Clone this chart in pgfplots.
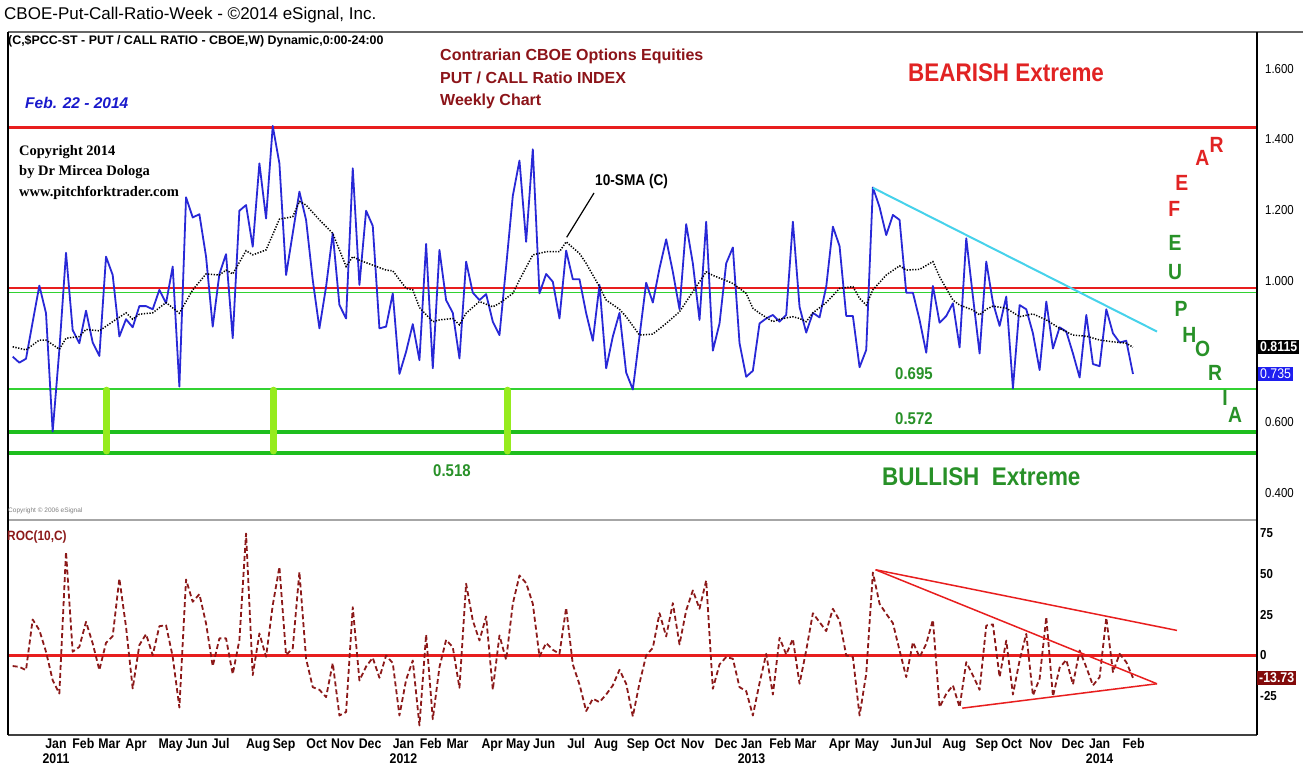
\documentclass[border=0pt]{standalone}
\usepackage{fontspec}
\setmainfont{Liberation Sans}
\newfontfamily\narrow[FakeStretch=0.88]{Liberation Sans}
\newfontfamily\timesf{Liberation Serif}
\usepackage{pgfplots}
\usepackage{pgfplotstable}
\pgfplotsset{compat=1.18}
\definecolor{pcblue}{RGB}{40,40,215}
\definecolor{rocred}{RGB}{140,25,25}
\definecolor{lnred}{RGB}{232,30,30}
\definecolor{lngreen}{RGB}{50,210,50}
\definecolor{dkgreen}{RGB}{30,190,30}
\definecolor{bargreen}{RGB}{150,235,30}
\definecolor{cyanln}{RGB}{70,210,235}
\definecolor{txtred}{RGB}{140,20,25}
\definecolor{txtgreen}{RGB}{40,145,40}
\definecolor{bearred}{RGB}{225,35,35}
\definecolor{lastblue}{RGB}{30,30,240}
\definecolor{lastred}{RGB}{130,10,10}

\pgfplotstableread{
k c r
0 0.785 -6.5
1 0.768 -7.0
2 0.779 -9.0
3 0.883 22.1
4 0.986 15.6
5 0.908 2.3
6 0.573 -15.2
7 0.804 -23.4
8 1.079 63.7
9 0.860 2.3
10 0.823 5.3
11 0.915 20.7
12 0.825 7.4
13 0.787 -9.0
14 1.068 7.8
15 1.016 11.9
16 0.842 47.3
17 0.891 17.6
18 0.868 -20.3
19 0.928 6.4
20 0.928 13.1
21 0.919 0.2
22 0.974 18.0
23 0.936 18.6
24 1.040 -0.8
25 0.700 -32.0
26 1.236 46.7
27 1.179 33.0
28 1.188 37.7
29 1.068 19.7
30 0.870 -6.6
31 1.019 10.5
32 1.075 10.5
33 0.837 -11.5
34 1.198 9.4
35 1.214 75.0
36 1.096 -12.1
37 1.332 13.5
38 1.176 -0.8
39 1.438 30.9
40 1.332 54.5
41 1.016 0.2
42 1.134 4.3
43 1.252 51.4
44 1.172 -2.0
45 1.002 -19.5
46 0.865 -21.1
47 0.983 -25.6
48 1.134 -4.7
49 0.931 -36.9
50 0.893 -34.8
51 1.318 29.7
52 0.988 -15.4
53 1.198 -6.8
54 1.155 -1.4
55 0.865 -13.7
56 0.870 0.0
57 0.964 -4.7
58 0.736 -36.9
59 0.799 -15.0
60 0.877 -3.1
61 0.775 -43.0
62 1.104 12.9
63 0.752 -39.2
64 1.087 -7.2
65 0.945 9.6
66 0.909 5.1
67 0.780 -19.9
68 1.054 44.1
69 0.966 21.5
70 0.945 9.2
71 0.962 24.0
72 0.884 -21.1
73 0.846 12.3
74 1.040 -2.7
75 1.240 31.8
76 1.340 49.2
77 1.110 44.5
78 1.372 31.8
79 0.964 -0.6
80 1.019 7.6
81 0.997 3.5
82 0.893 1.0
83 1.085 29.3
84 1.004 -5.5
85 1.004 -17.8
86 0.908 -34.2
87 0.830 -26.6
88 0.988 -28.7
89 0.752 -24.0
90 0.842 -18.4
91 0.909 -8.8
92 0.740 -17.4
93 0.692 -37.5
94 0.842 -17.0
95 0.994 0.0
96 0.938 4.7
97 1.035 26.0
98 1.117 11.7
99 1.025 32.2
100 0.919 6.8
101 1.160 27.7
102 1.049 40.0
103 0.889 28.7
104 1.167 46.1
105 0.802 -20.5
106 0.879 -5.5
107 1.049 -1.0
108 1.094 -2.0
109 0.823 -19.5
110 0.728 -21.9
111 0.745 -36.9
112 0.879 -17.0
113 0.893 1.0
114 0.903 -24.0
115 0.884 10.9
116 0.903 0.6
117 1.167 10.2
118 0.926 -17.4
119 0.853 3.1
120 0.909 26.0
121 0.896 20.5
122 0.983 15.0
123 1.153 28.7
124 1.098 21.5
125 0.900 0.0
126 0.900 -1.0
127 0.755 -36.9
128 0.804 -11.3
129 1.264 51.0
130 1.208 31.8
131 1.129 25.6
132 1.186 19.9
133 1.172 3.1
134 0.966 -13.3
135 0.966 8.2
136 0.889 -1.0
137 0.796 7.2
138 0.985 21.9
139 0.881 -31.8
140 0.900 -23.6
141 0.936 -18.4
142 0.811 -31.8
143 1.120 -4.1
144 0.955 -12.3
145 0.794 -21.1
146 1.054 18.4
147 0.938 19.1
148 0.872 -13.3
149 0.955 9.2
150 0.695 -24.0
151 0.931 -3.1
152 0.919 13.3
153 0.851 -24.6
154 0.747 -14.3
155 0.941 23.6
156 0.808 -25.2
157 0.868 -7.6
158 0.856 -2.7
159 0.794 -17.8
160 0.726 3.1
161 0.903 -7.2
162 0.764 -18.4
163 0.758 -13.3
164 0.919 23.2
165 0.851 -10.2
166 0.825 1.0
167 0.830 -4.1
168 0.736 -13.73
}\pcdata

\pgfplotstableread{
k s
0 0.813
2 0.804
4 0.832
5 0.832
7 0.806
8 0.837
10 0.842
11 0.862
13 0.858
15 0.884
17 0.909
18 0.891
19 0.905
21 0.909
23 0.938
25 0.908
27 0.974
29 1.019
31 1.016
32 1.030
33 1.019
35 1.085
36 1.073
38 1.087
40 1.174
42 1.181
43 1.224
44 1.214
46 1.172
48 1.134
50 1.040
51 1.068
52 1.058
54 1.044
56 1.030
57 1.028
59 0.978
60 0.974
61 0.924
63 0.884
64 0.889
66 0.893
67 0.875
68 0.908
70 0.941
72 0.926
73 0.936
75 0.964
76 1.002
78 1.073
80 1.082
82 1.082
83 1.110
85 1.077
86 1.049
88 0.983
89 0.945
91 0.919
92 0.898
94 0.846
96 0.849
98 0.879
100 0.912
102 0.969
104 1.025
105 1.015
107 1.000
108 0.992
110 0.964
111 0.922
112 0.908
114 0.884
115 0.891
117 0.898
118 0.893
119 0.884
120 0.909
122 0.938
124 0.978
126 0.983
127 0.950
128 0.931
129 0.974
131 1.016
133 1.042
134 1.030
136 1.032
138 1.054
139 1.011
141 0.945
142 0.931
144 0.917
145 0.903
146 0.919
147 0.928
149 0.922
151 0.898
153 0.906
155 0.889
157 0.865
159 0.846
161 0.843
163 0.832
165 0.827
167 0.823
168 0.8115
}\smadata

\begin{document}
\begin{tikzpicture}[x=1pt,y=1pt]
\useasboundingbox (0,0) rectangle (1303,767);
\fill[white] (0,0) rectangle (1303,767);

% ---------- top panel ----------
\begin{axis}[at={(8pt,249pt)}, anchor=south west, scale only axis,
  width=1249pt, height=486pt,
  xmin=-0.7, xmax=186.6, ymin=0.3283, ymax=1.7039,
  axis line style={draw=none}, tick style={draw=none}, major tick length=0pt,
  xtick=\empty, ytick={0.4,0.6,1.0,1.2,1.4,1.6},
  yticklabel pos=right,
  /pgf/number format/fixed, /pgf/number format/fixed zerofill,
  /pgf/number format/precision=3, /pgf/number format/assume math mode=true,
  yticklabel style={anchor=west, inner sep=0pt, xshift=8pt, font=\narrow\fontsize{13}{13}\selectfont},
]
\addplot[lnred, line width=3pt] coordinates {(-1,1.434) (190,1.434)};
\addplot[lnred, line width=2.2pt] coordinates {(-1,0.979) (190,0.979)};
\addplot[lngreen, line width=1.6pt] coordinates {(-1,0.967) (190,0.967)};
\addplot[lngreen, line width=1.6pt] coordinates {(-1,0.693) (190,0.693)};
\addplot[dkgreen, line width=3.5pt] coordinates {(-1,0.571) (190,0.571)};
\addplot[dkgreen, line width=3.5pt] coordinates {(-1,0.512) (190,0.512)};
\addplot[bargreen, line width=7pt, line cap=round] coordinates {(14.1,0.69) (14.1,0.518)};
\addplot[bargreen, line width=7pt, line cap=round] coordinates {(39.1,0.69) (39.1,0.518)};
\addplot[bargreen, line width=7pt, line cap=round] coordinates {(74.2,0.69) (74.2,0.518)};
\addplot[pcblue, line width=1.8pt, line join=round] table[x=k, y=c] {\pcdata};
\addplot[black, line width=1.5pt, dash pattern=on 1.3pt off 1.5pt] table[x=k, y=s] {\smadata};
\addplot[cyanln, line width=2pt] coordinates {(129,1.263) (171.6,0.856)};
\end{axis}

% ---------- bottom panel ----------
\begin{axis}[at={(8pt,32pt)}, anchor=south west, scale only axis,
  width=1249pt, height=215pt,
  xmin=-0.7, xmax=186.6, ymin=-48.9, ymax=83.3,
  axis line style={draw=none}, tick style={draw=none}, major tick length=0pt,
  ytick={-25,0,25,50,75}, yticklabel pos=right,
  /pgf/number format/assume math mode=true,
  yticklabel style={anchor=west, inner sep=0pt, xshift=3pt, font=\narrow\bfseries\fontsize{13}{13}\selectfont},
  xtick={6.5,10.6,14.5,18.5,23.7,27.6,31.2,36.8,40.7,45.6,49.5,53.6,58.6,62.7,66.7,71.9,75.8,79.7,84.5,89.0,93.8,97.8,102.0,107.0,110.8,115.1,118.9,124.0,128.1,133.3,136.5,141.2,146.1,149.8,154.2,159.0,163.0,168.1},
  xticklabels={{Jan\\2011},Feb,Mar,Apr,May,Jun,Jul,Aug,Sep,Oct,Nov,Dec,{Jan\\2012},Feb,Mar,Apr,May,Jun,Jul,Aug,Sep,Oct,Nov,Dec,{Jan\\2013},Feb,Mar,Apr,May,Jun,Jul,Aug,Sep,Oct,Nov,Dec,{Jan\\2014},Feb},
  xticklabel style={align=center, anchor=north, inner sep=0pt, yshift=-3.5pt, font=\narrow\bfseries\fontsize{14}{15}\selectfont},
]
\addplot[lnred, line width=2.2pt] coordinates {(-1,0) (190,0)};
\addplot[rocred, line width=1.8pt, dash pattern=on 5pt off 3pt, line join=round] table[x=k, y=r] {\pcdata};
\addplot[lnred, line width=1.5pt] coordinates {(129.4,52.7) (174.6,15.4)};
\addplot[lnred, line width=1.5pt] coordinates {(129.4,52.7) (171.6,-17.4)};
\addplot[lnred, line width=1.5pt] coordinates {(142.4,-32.4) (171.6,-17.4)};
\end{axis}

% ---------- frame ----------
\draw[gray!80!black, line width=2pt] (8,735) -- (1303,735);
\draw[gray!70, line width=2.5pt] (8,247) -- (1257,247);
\draw[black!75, line width=2pt] (8,32) -- (1257,32);
\draw[black, line width=1.5pt] (8,735) -- (8,32);
\draw[black, line width=1.2pt] (1257,735) -- (1257,32);

% ---------- texts ----------
\node[anchor=west, inner sep=0pt] at (4,752) {\fontsize{17}{17}\selectfont CBOE-Put-Call-Ratio-Week - ©2014 eSignal, Inc.};
\node[anchor=west, inner sep=0pt] at (8,726) {\bfseries\fontsize{12.4}{13}\selectfont (C,\$PCC-ST - PUT / CALL RATIO - CBOE,W) Dynamic,0:00-24:00};
\node[anchor=west, inner sep=0pt, text=lastblue!85!black] at (25,664) {\bfseries\itshape\fontsize{15.5}{16}\selectfont Feb. 22 - 2014};
\node[anchor=west, inner sep=0pt, text=txtred] at (440,711) {\bfseries\fontsize{16}{17}\selectfont Contrarian CBOE Options Equities};
\node[anchor=west, inner sep=0pt, text=txtred] at (440,689) {\bfseries\fontsize{16}{17}\selectfont PUT / CALL Ratio INDEX};
\node[anchor=west, inner sep=0pt, text=txtred] at (440,666) {\bfseries\fontsize{16}{17}\selectfont Weekly Chart};
\node[anchor=west, inner sep=0pt, text=bearred] at (908,694) {\narrow\bfseries\fontsize{25.5}{25}\selectfont BEARISH Extreme};
\node[anchor=west, inner sep=0pt] at (19,615) {\timesf\bfseries\fontsize{14.5}{15}\selectfont Copyright 2014};
\node[anchor=west, inner sep=0pt] at (19,595) {\timesf\bfseries\fontsize{14.5}{15}\selectfont by Dr Mircea Dologa};
\node[anchor=west, inner sep=0pt] at (19,574) {\timesf\bfseries\fontsize{14.5}{15}\selectfont www.pitchforktrader.com};
\node[anchor=west, inner sep=0pt] at (595,585) {\narrow\bfseries\fontsize{15.5}{16}\selectfont 10-SMA (C)};
\draw[black, line width=1.2pt] (594,574) -- (566.7,529.7);
\node[anchor=west, inner sep=0pt, text=txtgreen] at (895,393) {\narrow\bfseries\fontsize{17}{17}\selectfont 0.695};
\node[anchor=west, inner sep=0pt, text=txtgreen] at (895,348) {\narrow\bfseries\fontsize{17}{17}\selectfont 0.572};
\node[anchor=west, inner sep=0pt, text=txtgreen] at (433,296) {\narrow\bfseries\fontsize{17}{17}\selectfont 0.518};
\node[anchor=west, inner sep=0pt, text=txtgreen] at (882,290) {\narrow\bfseries\fontsize{25.5}{25}\selectfont BULLISH\ \ Extreme};
\node[anchor=west, inner sep=0pt, text=gray] at (8,256) {\fontsize{6.5}{7}\selectfont Copyright © 2006 eSignal};
\node[anchor=west, inner sep=0pt, text=rocred] at (7,230) {\narrow\bfseries\fontsize{13.5}{14}\selectfont ROC(10,C)};
% FEAR / EUPHORIA
\begin{scope}[every node/.style={inner sep=0pt, font=\narrow\bfseries\fontsize{22}{22}\selectfont}]
\node[text=bearred] at (1216.7,622) {R};
\node[text=bearred] at (1202.3,608.7) {A};
\node[text=bearred] at (1181.7,583.7) {E};
\node[text=bearred] at (1174.3,557.7) {F};
\node[text=txtgreen] at (1175,523.7) {E};
\node[text=txtgreen] at (1175,495.3) {U};
\node[text=txtgreen] at (1181,457.7) {P};
\node[text=txtgreen] at (1189.3,432) {H};
\node[text=txtgreen] at (1202.7,417.7) {O};
\node[text=txtgreen] at (1215,393.7) {R};
\node[text=txtgreen] at (1225,368.7) {I};
\node[text=txtgreen] at (1235,352) {A};
\end{scope}
% last value boxes
\node[anchor=west, fill=black, text=white, inner sep=2pt] at (1258,420) {\narrow\bfseries\fontsize{14}{14}\selectfont 0.8115};
\node[anchor=west, fill=lastblue, text=white, inner sep=2pt] at (1258,393) {\narrow\fontsize{14}{14}\selectfont 0.735};
\node[anchor=west, fill=lastred, text=white, inner sep=2pt] at (1257,89) {\narrow\bfseries\fontsize{14}{14}\selectfont -13.73};
\end{tikzpicture}
\end{document}
